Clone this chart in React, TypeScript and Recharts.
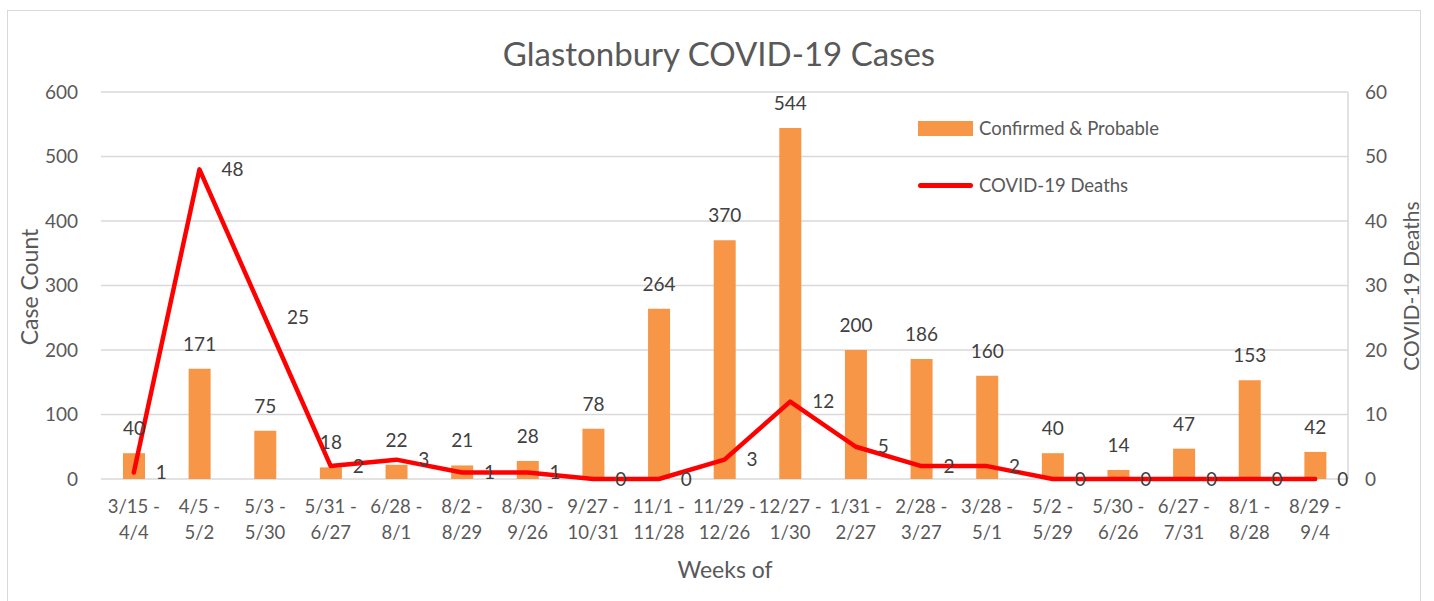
import {
  ComposedChart,
  Bar,
  Line,
  XAxis,
  YAxis,
  CartesianGrid,
  Legend,
  LabelList,
} from "recharts";

const FONT = "Lato, 'Open Sans', sans-serif";
const ORANGE = "#F79646";
const RED = "#FF0000";
const GRID = "#D9D9D9";
const TICK = "#595959";
const LABEL = "#404040";

// weeks split into the two lines shown under each category
const weekStarts = [
  "3/15 -", "4/5 -", "5/3 -", "5/31 -", "6/28 -", "8/2 -", "8/30 -", "9/27 -",
  "11/1 -", "11/29 -", "12/27 -", "1/31 -", "2/28 -", "3/28 -", "5/2 -",
  "5/30 -", "6/27 -", "8/1 -", "8/29 -",
];
const weekEnds = [
  "4/4", "5/2", "5/30", "6/27", "8/1", "8/29", "9/26", "10/31", "11/28",
  "12/26", "1/30", "2/27", "3/27", "5/1", "5/29", "6/26", "7/31", "8/28", "9/4",
];
const cases = [40, 171, 75, 18, 22, 21, 28, 78, 264, 370, 544, 200, 186, 160, 40, 14, 47, 153, 42];
const deaths = [1, 48, 25, 2, 3, 1, 1, 0, 0, 3, 12, 5, 2, 2, 0, 0, 0, 0, 0];

const caseTicks = [0, 100, 200, 300, 400, 500, 600];
const deathTicks = [0, 10, 20, 30, 40, 50, 60];

const data = weekStarts.map((s, i) => ({
  week: `${s}\n${weekEnds[i]}`,
  cases: cases[i],
  deaths: deaths[i],
}));

function WeekTick({ x, y, payload }: any) {
  const [a, b] = String(payload.value).split("\n");
  return (
    <text x={x} y={y} textAnchor="middle" fill={TICK} fontSize={18.5} fontFamily={FONT}>
      <tspan x={x} dy={26}>{a}</tspan>
      <tspan x={x} dy={26}>{b}</tspan>
    </text>
  );
}

const renderLegend = () => (
  <div style={{ fontFamily: FONT, fontSize: 18.5, color: TICK, whiteSpace: "nowrap" }}>
    <div style={{ display: "flex", alignItems: "center", height: 20 }}>
      <span style={{ width: 55, height: 15, background: ORANGE, marginRight: 6 }} />
      Confirmed &amp; Probable
    </div>
    <div style={{ display: "flex", alignItems: "center", height: 20, marginTop: 37 }}>
      <span style={{ width: 55, height: 5, background: RED, borderRadius: 3, marginRight: 6 }} />
      COVID-19 Deaths
    </div>
  </div>
);

export default function App() {
  return (
    <div style={{ position: "absolute", left: 0, top: 0, width: 1434, height: 601, background: "#fff", overflow: "hidden" }}>
      <div
        style={{
          position: "absolute",
          left: 7,
          top: 10,
          width: 1414,
          height: 620,
          border: `1px solid ${GRID}`,
          boxSizing: "border-box",
        }}
      />
      <ComposedChart
        width={1434}
        height={601}
        data={data}
        margin={{ top: 92, right: 26, left: 10, bottom: 52 }}
        style={{ position: "absolute", left: 0, top: 0 }}
      >
        <CartesianGrid yAxisId="left" vertical={false} stroke={GRID} strokeWidth={1.5} />
        <XAxis
          dataKey="week"
          interval={0}
          height={70}
          tick={<WeekTick />}
          tickLine={false}
          axisLine={false}
        />
        <YAxis
          yAxisId="left"
          domain={[0, 600]}
          ticks={caseTicks}
          width={91}
          tickLine={false}
          axisLine={false}
          tickMargin={17}
          tick={{ fontSize: 19, fill: TICK, fontFamily: FONT }}
        />
        <YAxis
          yAxisId="right"
          orientation="right"
          domain={[0, 60]}
          ticks={deathTicks}
          width={60}
          tickLine={false}
          axisLine={{ stroke: GRID, strokeWidth: 1.5 }}
          tickMargin={11}
          tick={{ fontSize: 19, fill: TICK, fontFamily: FONT, textAnchor: "start" }}
        />
        <Legend
          layout="vertical"
          align="center"
          verticalAlign="middle"
          wrapperStyle={{ top: 118, left: 918, width: 320 }}
          content={renderLegend}
        />
        <Bar yAxisId="left" dataKey="cases" name="Confirmed & Probable" fill={ORANGE} barSize={22} isAnimationActive={false}>
          <LabelList dataKey="cases" position="top" offset={18} fill={LABEL} fontSize={19} fontFamily={FONT} />
        </Bar>
        <Line
          yAxisId="right"
          type="linear"
          dataKey="deaths"
          name="COVID-19 Deaths"
          stroke={RED}
          strokeWidth={4.5}
          strokeLinejoin="round"
          strokeLinecap="round"
          dot={false}
          activeDot={false}
          isAnimationActive={false}
        >
          <LabelList dataKey="deaths" position="right" offset={22} fill={LABEL} fontSize={19} fontFamily={FONT} />
        </Line>
      </ComposedChart>
      <svg width={1434} height={601} style={{ position: "absolute", left: 0, top: 0, pointerEvents: "none" }}>
        <text x={719} y={66} textAnchor="middle" fontSize={33} fill={TICK} fontFamily={FONT}>
          Glastonbury COVID-19 Cases
        </text>
        <text x={725} y={578} textAnchor="middle" fontSize={23} fill={TICK} fontFamily={FONT}>
          Weeks of
        </text>
        <text x={38} y={287} textAnchor="middle" fontSize={23} fill={TICK} fontFamily={FONT} transform="rotate(-90 38 287)">
          Case Count
        </text>
        <text x={1419} y={286} textAnchor="middle" fontSize={21} fill={TICK} fontFamily={FONT} transform="rotate(-90 1419 286)">
          COVID-19 Deaths
        </text>
      </svg>
    </div>
  );
}
